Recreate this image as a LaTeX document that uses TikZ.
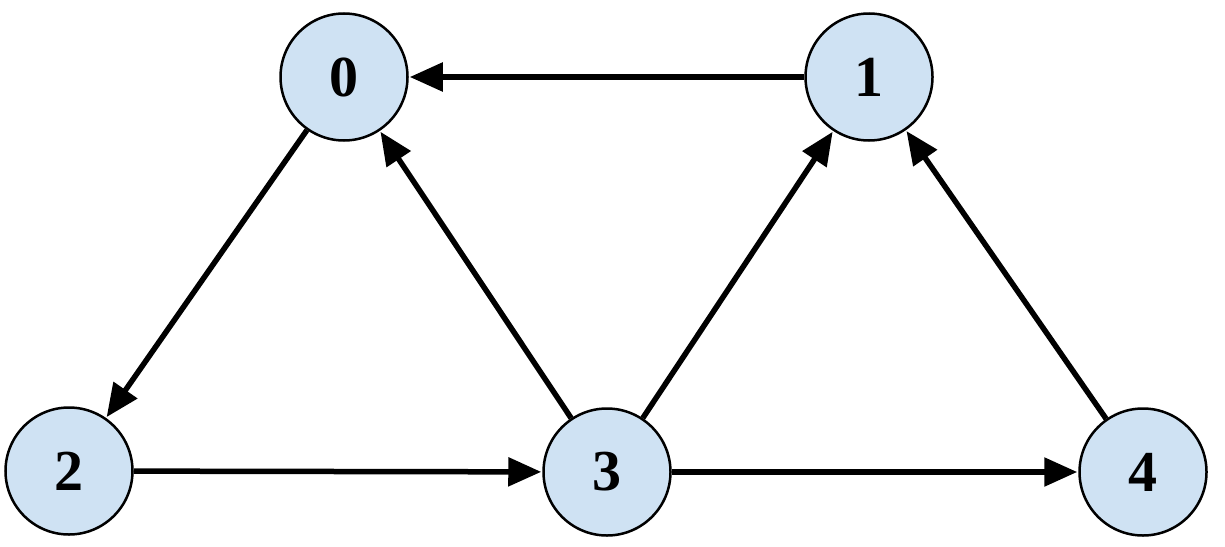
\documentclass[tikz,border=0pt]{standalone}
\usepackage{fontspec}
\setmainfont{Liberation Serif}
\usetikzlibrary{arrows.meta}
\definecolor{nodefill}{HTML}{CFE2F3}
\begin{document}
\begin{tikzpicture}[x=1pt,y=-1pt,
  vert/.style={circle,draw=black,line width=2.5pt,fill=nodefill,minimum size=127pt,inner sep=0pt,font=\fontsize{58}{58}\selectfont\bfseries},
  edge/.style={line width=5.5pt,-{Triangle[length=33pt,width=28pt]},shorten >=1pt}]
\useasboundingbox (0,0) rectangle (1225,546);
\node[vert] (n0) at (344,77) {0};
\node[vert] (n1) at (869,77) {1};
\node[vert] (n2) at (69,471) {2};
\node[vert] (n3) at (607,472) {3};
\node[vert] (n4) at (1143,472) {4};
\draw[edge] (n1) -- (n0);
\draw[edge] (n0) -- (n2);
\draw[edge] (n3) -- (n0);
\draw[edge] (n3) -- (n1);
\draw[edge] (n4) -- (n1);
\draw[edge] (n2) -- (n3);
\draw[edge] (n3) -- (n4);
\end{tikzpicture}
\end{document}
